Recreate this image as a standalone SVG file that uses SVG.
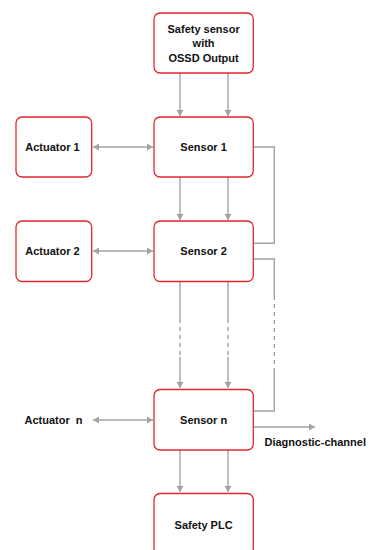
<svg xmlns="http://www.w3.org/2000/svg" width="383" height="550" viewBox="0 0 383 550">
<defs>
<marker id="ah" markerUnits="userSpaceOnUse" markerWidth="8" markerHeight="8" refX="6" refY="4" orient="auto-start-reverse" viewBox="0 0 8 8">
<path d="M0,0.5 L6,4 L0,7.5 z" fill="#a3a3a3"/>
</marker>
</defs>
<style>
.box{fill:#fff;stroke:#e3262e;stroke-width:1.3}
.t{font-family:"Liberation Sans",Arial,sans-serif;font-weight:bold;font-size:11px;fill:#111;text-anchor:middle}
.c{fill:none;stroke:#a3a3a3;stroke-width:1.4}
.d{stroke-dasharray:4 4}
</style>
<rect width="383" height="550" fill="#fff"/>
<g id="connectors">
<line class="c" x1="180" y1="73" x2="180" y2="116" marker-end="url(#ah)"/>
<line class="c" x1="228" y1="73" x2="228" y2="116" marker-end="url(#ah)"/>
<line class="c" x1="93" y1="147" x2="153" y2="147" marker-start="url(#ah)" marker-end="url(#ah)"/>
<line class="c" x1="180" y1="177" x2="180" y2="220" marker-end="url(#ah)"/>
<line class="c" x1="228" y1="177" x2="228" y2="220" marker-end="url(#ah)"/>
<line class="c" x1="93" y1="251" x2="153" y2="251" marker-start="url(#ah)" marker-end="url(#ah)"/>
<path class="c" d="M253,147 H274.3 V243.3 H253"/>
<path class="c" d="M253,259 H274.3 V296"/>
<line class="c d" x1="274.3" y1="296" x2="274.3" y2="372"/>
<path class="c" d="M274.3,372 V411 H253"/>
<line class="c" x1="180" y1="282" x2="180" y2="319"/>
<line class="c d" x1="180" y1="319" x2="180" y2="357"/>
<line class="c" x1="180" y1="357" x2="180" y2="388" marker-end="url(#ah)"/>
<line class="c" x1="228" y1="282" x2="228" y2="319"/>
<line class="c d" x1="228" y1="319" x2="228" y2="357"/>
<line class="c" x1="228" y1="357" x2="228" y2="388" marker-end="url(#ah)"/>
<line class="c" x1="93" y1="420" x2="153" y2="420" marker-start="url(#ah)" marker-end="url(#ah)"/>
<line class="c" x1="253" y1="427" x2="315" y2="427" marker-end="url(#ah)"/>
<line class="c" x1="180" y1="450" x2="180" y2="492" marker-end="url(#ah)"/>
<line class="c" x1="228" y1="450" x2="228" y2="492" marker-end="url(#ah)"/>
</g>
<g id="safety-sensor">
<rect class="box" x="154" y="13" width="99.3" height="60" rx="6"/>
<text class="t" x="203.6" y="32.5">Safety sensor</text>
<text class="t" x="203.6" y="47">with</text>
<text class="t" x="203.6" y="61.7">OSSD Output</text>
</g>
<g id="sensor1">
<rect class="box" x="154" y="117" width="99.3" height="60" rx="6"/>
<text class="t" x="203.6" y="151">Sensor 1</text>
</g>
<g id="actuator1">
<rect class="box" x="16" y="117" width="75.7" height="60" rx="6"/>
<text class="t" x="52.5" y="151">Actuator 1</text>
</g>
<g id="sensor2">
<rect class="box" x="154" y="221" width="99.3" height="60.5" rx="6"/>
<text class="t" x="203.6" y="255">Sensor 2</text>
</g>
<g id="actuator2">
<rect class="box" x="16" y="221" width="75.7" height="60.5" rx="6"/>
<text class="t" x="52.5" y="255">Actuator 2</text>
</g>
<g id="sensorn">
<rect class="box" x="154" y="389.5" width="99.3" height="60.5" rx="6"/>
<text class="t" x="203.6" y="423.5">Sensor n</text>
</g>
<g id="actuatorn">
<text class="t" x="53.5" y="423.5" xml:space="preserve">Actuator  n</text>
</g>
<g id="diagnostic">
<text class="t" x="264.5" y="446" style="text-anchor:start">Diagnostic-channel</text>
</g>
<g id="safety-plc">
<rect class="box" x="154" y="493.5" width="99.3" height="62" rx="6"/>
<text class="t" x="203.6" y="528.5">Safety PLC</text>
</g>
</svg>
